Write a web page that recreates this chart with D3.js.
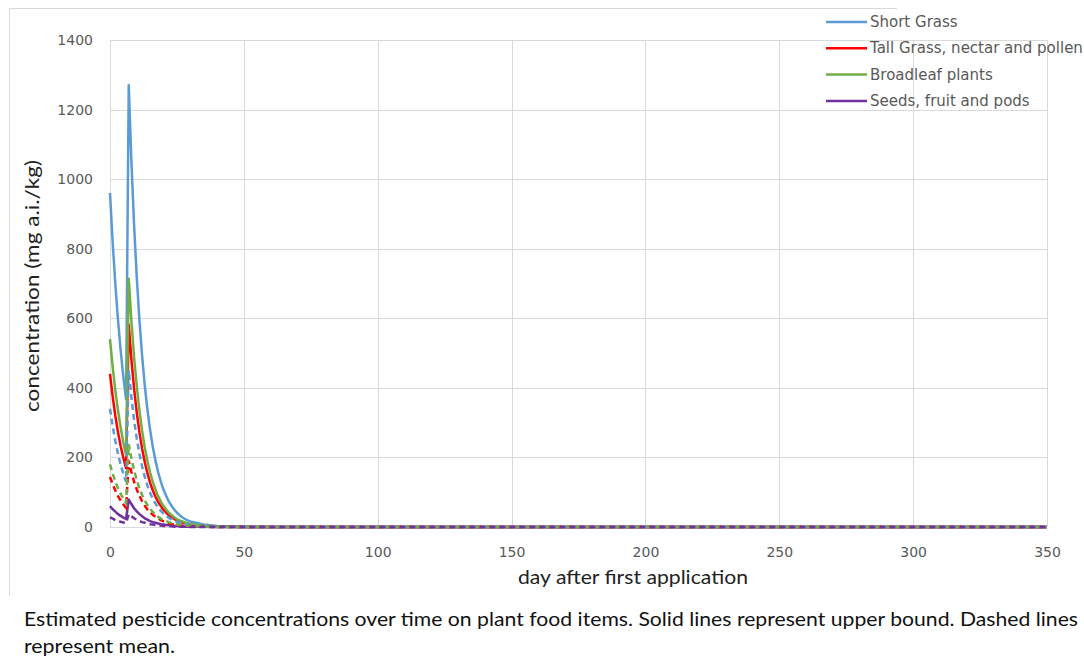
<!DOCTYPE html>
<html>
<head>
<meta charset="utf-8">
<script src="https://cdn.jsdelivr.net/npm/d3@7"></script>
<style>
  body { margin: 0; background: #fff; }
  svg { display: block; }
</style>
</head>
<body>
<div id="chart"></div>
<script>
// days where values were read (daily through the peaks, sparse once everything is ~0)
const days = [0, 1, 2, 3, 4, 5, 6, 7, 8, 9, 10, 11, 12, 13, 14, 15, 16, 17, 18, 19, 20,
  21, 22, 23, 24, 25, 26, 27, 28, 29, 30, 35, 40, 45, 50, 60, 350];

// upper bound (solid)
const shortGrass = [960, 818, 697, 594, 506, 431, 368, 1270, 1050, 868, 718, 594, 491, 406, 336, 278, 230,
  190, 157, 130, 107, 89, 73, 61, 50, 41, 34, 28, 23, 19, 16, 7, 3, 1.5, 0.6, 0, 0];
const tallGrass = [440, 375, 319, 272, 232, 198, 169, 582, 481, 398, 329, 272, 225, 186, 154, 127, 105,
  87, 72, 60, 49, 41, 33, 28, 23, 19, 16, 13, 11, 9, 7, 3, 1.2, 0.6, 0.2, 0, 0];
const broadleaf = [540, 460, 392, 334, 285, 242, 207, 714, 591, 488, 404, 334, 276, 228, 189, 156, 129,
  107, 88, 73, 60, 50, 41, 34, 28, 23, 19, 16, 13, 11, 9, 3.6, 1.5, 0.7, 0.3, 0, 0];
const seeds = [60, 51, 44, 37, 32, 27, 23, 79, 66, 54, 45, 37, 31, 25, 21, 17, 14,
  12, 10, 8, 7, 6, 5, 4, 3, 3, 2, 2, 1, 1, 1, 0.4, 0, 0, 0, 0, 0];

// mean (dashed)
const shortGrassMean = [340, 290, 247, 210, 179, 153, 130, 450, 372, 307, 254, 210, 174, 144, 119, 98, 81,
  67, 56, 46, 38, 32, 26, 22, 18, 15, 12, 10, 8, 7, 6, 2, 1, 0, 0, 0, 0];
const tallGrassMean = [144, 123, 105, 89, 76, 65, 55, 191, 158, 130, 108, 89, 74, 61, 50, 42, 35,
  29, 24, 20, 16, 13, 11, 9, 8, 6, 5, 4, 3, 3, 2, 1, 0, 0, 0, 0, 0];
const broadleafMean = [180, 153, 131, 111, 95, 81, 69, 238, 197, 163, 135, 111, 92, 76, 63, 52, 43,
  36, 29, 24, 20, 17, 14, 11, 9, 8, 6, 5, 4, 4, 3, 1, 0, 0, 0, 0, 0];
const seedsMean = [28, 24, 20, 17, 15, 13, 11, 37, 31, 25, 21, 17, 14, 12, 10, 8, 7,
  6, 5, 4, 3, 3, 2, 2, 1, 1, 1, 1, 1, 1, 0, 0, 0, 0, 0, 0, 0];

const legendLabels = ['Short Grass', 'Tall Grass, nectar and pollen', 'Broadleaf plants', 'Seeds, fruit and pods'];
const xTicks = [0, 50, 100, 150, 200, 250, 300, 350];
const yTicks = [0, 200, 400, 600, 800, 1000, 1200, 1400];
const colors = ['#5B9BD5', '#FF0000', '#70AD47', '#7030A0'];

const solidSeries = [shortGrass, tallGrass, broadleaf, seeds];
const meanSeries = [shortGrassMean, tallGrassMean, broadleafMean, seedsMean];

const w = 1084, h = 662;

const svg = d3.select('#chart').append('svg')
  .attr('width', w)
  .attr('height', h);

// chart frame (faint, left + top only like the screenshot)
svg.append('path')
  .attr('d', 'M9.5,596 V8.5 H897')
  .attr('fill', 'none')
  .attr('stroke', '#d9d9d9');

const xScale = d3.scaleLinear().domain([0, 350]).range([110, 1047]);
const yScale = d3.scaleLinear().domain([0, 1400]).range([527, 40]);

// grid
const xAxis = d3.axisBottom(xScale).tickValues(xTicks).tickSize(-(527 - 40)).tickPadding(20);
const yAxis = d3.axisLeft(yScale).tickValues(yTicks).tickFormat(d3.format('d')).tickSize(-(1047 - 110)).tickPadding(17);

svg.append('g')
  .attr('class', 'x-axis')
  .attr('transform', 'translate(0,527)')
  .call(xAxis);

svg.append('g')
  .attr('class', 'y-axis')
  .attr('transform', 'translate(110,0)')
  .call(yAxis);

d3.selectAll('.domain').remove();
d3.selectAll('.tick line').attr('stroke', '#d9d9d9').attr('shape-rendering', 'crispEdges');
d3.selectAll('.tick text')
  .attr('font-family', 'DejaVu Sans, sans-serif')
  .attr('font-size', 14)
  .attr('fill', '#595959');

// lines
const line = (vals) => d3.line()
  .x((d, i) => xScale(days[i]))
  .y(d => yScale(d))(vals);

solidSeries.forEach((vals, k) => {
  svg.append('path')
    .attr('d', line(vals))
    .attr('fill', 'none')
    .attr('stroke', colors[k])
    .attr('stroke-width', 2.5)
    .attr('stroke-linejoin', 'round');
});

meanSeries.forEach((vals, k) => {
  svg.append('path')
    .attr('d', line(vals))
    .attr('fill', 'none')
    .attr('stroke', colors[k])
    .attr('stroke-width', 2.5)
    .attr('stroke-dasharray', '6,4');
});

// legend
const legend = svg.append('g').attr('transform', 'translate(826,22)');
legendLabels.forEach((lab, k) => {
  const g = legend.append('g').attr('transform', `translate(0,${k * 26.3})`);
  g.append('line')
    .attr('x1', 0).attr('x2', 41)
    .attr('stroke', colors[k])
    .attr('stroke-width', 2.5);
  g.append('text')
    .attr('x', 44).attr('y', 5)
    .attr('font-family', 'DejaVu Sans, sans-serif')
    .attr('font-size', 15)
    .attr('fill', '#595959')
    .text(lab);
});

// axis titles
svg.append('text')
  .attr('text-anchor', 'middle')
  .attr('transform', 'translate(39,286)rotate(-90)')
  .attr('font-family', 'Lato, sans-serif')
  .attr('font-size', 20)
  .attr('fill', '#222')
  .attr('textLength', 252)
  .attr('lengthAdjust', 'spacingAndGlyphs')
  .text('concentration (mg a.i./kg)');

svg.append('text')
  .attr('text-anchor', 'middle')
  .attr('x', 633).attr('y', 584)
  .attr('font-family', 'Lato, sans-serif')
  .attr('font-size', 20)
  .attr('fill', '#222')
  .attr('textLength', 230)
  .attr('lengthAdjust', 'spacingAndGlyphs')
  .text('day after first application');

// caption
svg.append('text')
  .attr('x', 24).attr('y', 626)
  .attr('font-family', 'Lato, sans-serif')
  .attr('font-size', 20)
  .attr('fill', '#111')
  .attr('textLength', 1054)
  .attr('lengthAdjust', 'spacingAndGlyphs')
  .text('Estimated pesticide concentrations over time on plant food items. Solid lines represent upper bound. Dashed lines');

svg.append('text')
  .attr('x', 24).attr('y', 653)
  .attr('font-family', 'Lato, sans-serif')
  .attr('font-size', 20)
  .attr('fill', '#111')
  .attr('textLength', 151)
  .attr('lengthAdjust', 'spacingAndGlyphs')
  .text('represent mean.');
</script>
</body>
</html>
